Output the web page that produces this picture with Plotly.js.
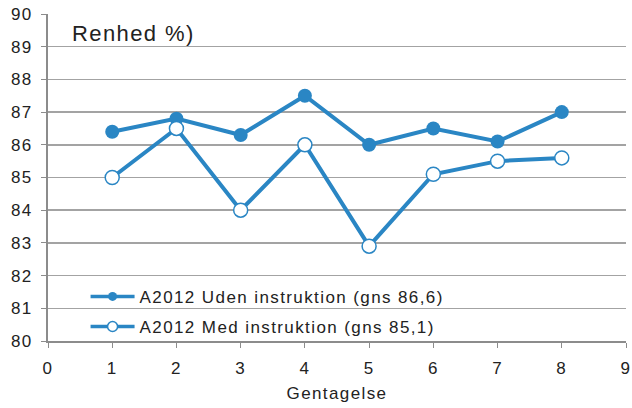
<!DOCTYPE html>
<html>
<head>
<meta charset="utf-8">
<script src="https://cdn.plot.ly/plotly-3.0.1.min.js"></script>
<style>
html,body{margin:0;padding:0;background:#fff;}
#chart{width:632px;height:408px;}
#chart svg text{letter-spacing:1.4px;}
#chart .legend .scrollbox{clip-path:none !important;}
</style>
</head>
<body>
<div id="chart"></div>
<script>
var repetitions = [1, 2, 3, 4, 5, 6, 7, 8];
var udenValues = [86.4, 86.8, 86.3, 87.5, 86.0, 86.5, 86.1, 87.0];
var medValues = [85.0, 86.5, 84.0, 86.0, 82.9, 85.1, 85.5, 85.6];
var seriesNames = ["A2012 Uden instruktion (gns 86,6)", "A2012 Med instruktion (gns 85,1)"];
var xTicks = [0, 1, 2, 3, 4, 5, 6, 7, 8, 9];
var yTicks = [80, 81, 82, 83, 84, 85, 86, 87, 88, 89, 90];
var chartTitle = "Renhed %)";
var xTitle = "Gentagelse";

var blue = "#2a86c4";
var fontFam = "Liberation Sans, Arial, sans-serif";
var textCol = "#222";

var filledMarker = {symbol: "circle", size: 14, color: blue};
var openMarker = {symbol: "circle", size: 14, color: "#ffffff", line: {color: blue, width: 1.5}};

var traces = [
  {
    x: repetitions, y: udenValues, name: seriesNames[0], type: "scatter", mode: "lines+markers",
    showlegend: false, line: {color: blue, width: 4}, marker: filledMarker
  },
  {
    x: repetitions, y: medValues, name: seriesNames[1], type: "scatter", mode: "lines+markers",
    showlegend: false, line: {color: blue, width: 4}, marker: openMarker
  },
  // legend entries (smaller legend symbols, as in the original)
  {
    x: [null], y: [null], name: seriesNames[0], type: "scatter", mode: "lines+markers",
    legendgroup: "a", line: {color: blue, width: 3.5},
    marker: {symbol: "circle", size: 9, color: blue}
  },
  {
    x: [null], y: [null], name: seriesNames[1], type: "scatter", mode: "lines+markers",
    legendgroup: "b", line: {color: blue, width: 3.5},
    marker: {symbol: "circle", size: 10, color: "#ffffff", line: {color: blue, width: 1.5}}
  }
];

var layout = {
  width: 632, height: 408,
  margin: {l: 48, r: 6, t: 14, b: 67},
  paper_bgcolor: "#fff", plot_bgcolor: "#fff",
  font: {family: fontFam, size: 17, color: textCol},
  title: {text: chartTitle, font: {family: fontFam, size: 22, color: textCol},
          xref: "container", yref: "container", x: 72/632, xanchor: "left", y: 1 - 33/408, yanchor: "middle"},
  xaxis: {
    range: [0, 9], tickvals: xTicks, ticktext: xTicks.map(String),
    showgrid: false, zeroline: false, showline: true, linecolor: "#8c8c8c", linewidth: 2,
    ticks: "outside", ticklen: 5, tickcolor: "#8c8c8c", tickwidth: 1,
    ticklabelstandoff: 6,
    tickfont: {size: 17, color: textCol},
    title: {text: xTitle, font: {size: 17, color: textCol}, standoff: 10}
  },
  yaxis: {
    range: [80, 90], tickvals: yTicks, ticktext: yTicks.map(String),
    showgrid: true, gridcolor: "#a3a3a3", gridwidth: 1.5, zeroline: false,
    showline: true, linecolor: "#8c8c8c", linewidth: 2,
    ticks: "outside", ticklen: 5, tickcolor: "#8c8c8c", tickwidth: 1,
    ticklabelstandoff: 5,
    tickfont: {size: 17, color: textCol}
  },
  showlegend: true,
  legend: {x: 0.065, y: 0.19, xanchor: "left", yanchor: "top", bgcolor: "rgba(0,0,0,0)",
           traceorder: "grouped", tracegroupgap: 5, itemwidth: 44,
           font: {size: 17, color: textCol}}
};

Plotly.newPlot("chart", traces, layout, {displayModeBar: false, staticPlot: true});
</script>
</body>
</html>
